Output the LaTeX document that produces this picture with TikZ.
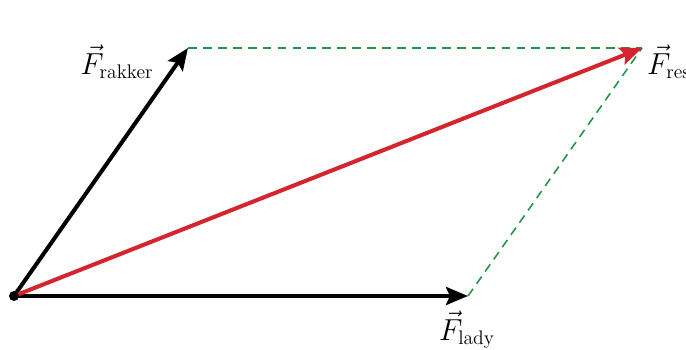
\documentclass[tikz,border=0pt]{standalone}
\usepackage{amsmath}
\usetikzlibrary{positioning}
\usetikzlibrary{arrows.meta}
\definecolor{resred}{RGB}{212,36,46}
\definecolor{dashgreen}{RGB}{34,150,72}

\begin{document}
\begin{tikzpicture}[x=0.02cm, y=-0.02cm,
    force/.style={line width=2.3pt, -{Stealth[length=0.44cm, width=0.36cm, inset=0.08cm]}},
    guide/.style={dashgreen, line width=0.9pt, dash pattern=on 5pt off 3.5pt},
    lbl/.style={font=\fontsize{16}{19}\selectfont, inner sep=1pt}]
    \useasboundingbox (0,0) rectangle (686,349);

    \coordinate (O) at (14,296);
    \coordinate (rakker) at (188,48);
    \coordinate (lady) at (468,296);
    \coordinate (res) at (642,48);

    % parallelogram sides
    \draw[guide] (rakker) -- (res);
    \draw[guide] (lady) -- (res);

    % forces
    \draw[force] (O) -- (rakker);
    \draw[force] (O) -- (lady);
    \draw[force, resred] (O) -- (res);
    \fill (O) circle (5);

    \node[lbl] (lrakker) at (117,62) {$\vec{F}_{\text{rakker}}$};
    \node[lbl, anchor=north] (llady) at (467,309) {$\vec{F}_{\text{lady}}$};
    \node[lbl, anchor=west] (lres) at (645,62) {$\vec{F}_{\text{res}}$};
\end{tikzpicture}
\end{document}
